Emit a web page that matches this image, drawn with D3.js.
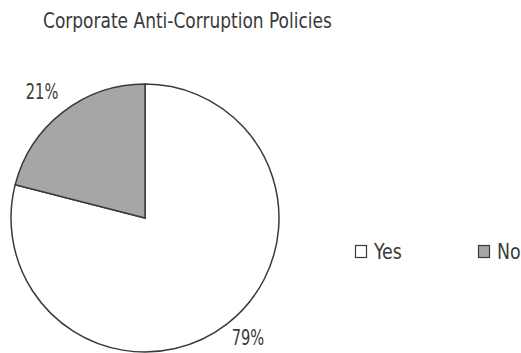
<!DOCTYPE html>
<html>
<head>
<meta charset="utf-8">
<script src="https://cdn.jsdelivr.net/npm/d3@7"></script>
<style>
  html, body { margin: 0; padding: 0; background: #fff; }
  svg { display: block; }
  text { font-family: "DejaVu Sans Condensed", "Liberation Sans Narrow", sans-serif; fill: #3a3a3a; }
</style>
</head>
<body>
<svg id="chart" width="521" height="353"></svg>
<script>
const title = "Corporate Anti-Corruption Policies";
const categories = ["Yes", "No"];
const values = [79, 21];
const colors = ["#ffffff", "#a6a6a6"];

const width = 521, height = 353;
const cx = 145, cy = 218, radius = 134;

const svg = d3.select("#chart");

// squeeze a text element horizontally by a factor
function narrow(sel, factor) {
  sel.each(function () {
    const w = this.getComputedTextLength();
    d3.select(this)
      .attr("textLength", w * factor)
      .attr("lengthAdjust", "spacingAndGlyphs");
  });
}

svg.append("text")
  .attr("x", 43)
  .attr("y", 28)
  .attr("font-size", 22)
  .text(title)
  .call(narrow, 0.86);

const data = categories.map((c, i) => ({ category: c, value: values[i], color: colors[i] }));

const pie = d3.pie().value(d => d.value).sort(null);
const arc = d3.arc().innerRadius(0).outerRadius(radius);
const labelArc = d3.arc().innerRadius(radius * 1.2).outerRadius(radius * 1.2);

const g = svg.append("g").attr("transform", `translate(${cx},${cy})`);
const arcs = pie(data);

g.selectAll("path.slice")
  .data(arcs)
  .join("path")
  .attr("class", "slice")
  .attr("d", arc)
  .attr("fill", d => d.data.color)
  .attr("stroke", "#3a3a3a")
  .attr("stroke-width", 1.5)
  .attr("stroke-linejoin", "miter");

// percentage labels outside the slices, kept inside the drawing area
const pctFactor = 0.74;
const labels = g.selectAll("text.pct")
  .data(arcs)
  .join("text")
  .attr("class", "pct")
  .attr("text-anchor", "middle")
  .attr("dy", "0.35em")
  .attr("font-size", 22)
  .text(d => d.data.value + "%")
  .call(narrow, pctFactor);

labels.attr("transform", function (d) {
  const [x, y] = labelArc.centroid(d);
  const mid = (d.startAngle + d.endAngle) / 2;
  const w = this.getComputedTextLength() * pctFactor;
  const lx = x + Math.sin(mid) * w * 0.3;
  const ly = Math.min(y, height - cy - 16);
  return `translate(${lx},${ly})`;
});

// Legend
const legendX = d3.scalePoint().domain(categories).range([355, 478]);
const legend = svg.append("g");
const item = legend.selectAll("g.item")
  .data(data)
  .join("g")
  .attr("class", "item")
  .attr("transform", d => `translate(${legendX(d.category)},245)`);

item.append("rect")
  .attr("x", 0.5).attr("y", 0.5)
  .attr("width", 11).attr("height", 12)
  .attr("fill", d => d.color)
  .attr("stroke", "#3a3a3a")
  .attr("stroke-width", 1.2);

item.append("text")
  .attr("x", 19)
  .attr("y", 14)
  .attr("font-size", 22)
  .text(d => d.category)
  .call(narrow, 0.88);
</script>
</body>
</html>
